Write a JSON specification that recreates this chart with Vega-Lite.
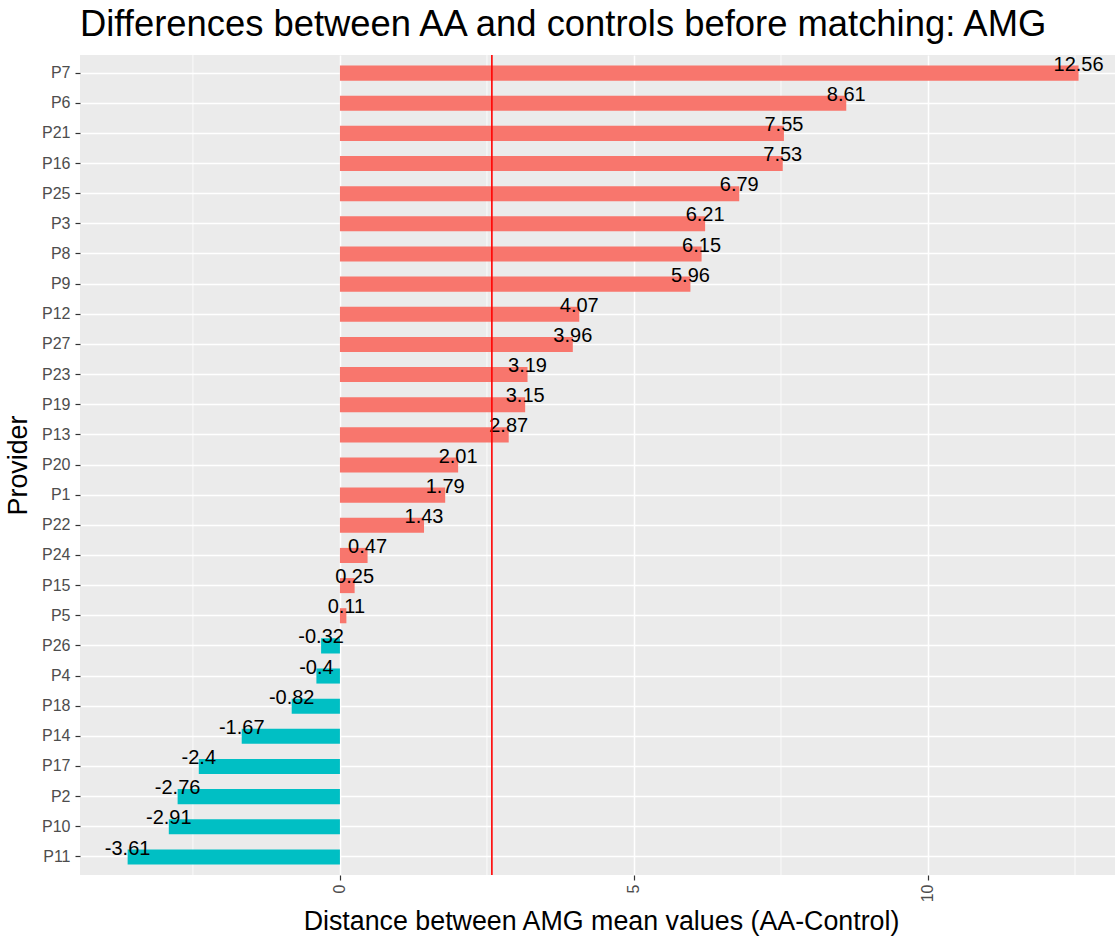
{
  "$schema": "https://vega.github.io/schema/vega-lite/v6.json",
  "width": 1035,
  "height": 820,
  "autosize": {"type": "none"},
  "padding": {"left": 80, "top": 55, "right": 0, "bottom": 63},
  "background": "white",
  "title": {
    "text": "Differences between AA and controls before matching: AMG",
    "anchor": "start",
    "frame": "group",
    "font": "Liberation Sans",
    "fontSize": 36.4,
    "fontWeight": "normal",
    "color": "black",
    "baseline": "alphabetic",
    "offset": 17,
    "dy": 35
  },
  "config": {
    "view": {"fill": "#EBEBEB", "stroke": null},
    "font": "Liberation Sans"
  },
  "datasets": {
    "main": [
      {"Provider": "P7", "value": 12.56},
      {"Provider": "P6", "value": 8.61},
      {"Provider": "P21", "value": 7.55},
      {"Provider": "P16", "value": 7.53},
      {"Provider": "P25", "value": 6.79},
      {"Provider": "P3", "value": 6.21},
      {"Provider": "P8", "value": 6.15},
      {"Provider": "P9", "value": 5.96},
      {"Provider": "P12", "value": 4.07},
      {"Provider": "P27", "value": 3.96},
      {"Provider": "P23", "value": 3.19},
      {"Provider": "P19", "value": 3.15},
      {"Provider": "P13", "value": 2.87},
      {"Provider": "P20", "value": 2.01},
      {"Provider": "P1", "value": 1.79},
      {"Provider": "P22", "value": 1.43},
      {"Provider": "P24", "value": 0.47},
      {"Provider": "P15", "value": 0.25},
      {"Provider": "P5", "value": 0.11},
      {"Provider": "P26", "value": -0.32},
      {"Provider": "P4", "value": -0.4},
      {"Provider": "P18", "value": -0.82},
      {"Provider": "P14", "value": -1.67},
      {"Provider": "P17", "value": -2.4},
      {"Provider": "P2", "value": -2.76},
      {"Provider": "P10", "value": -2.91},
      {"Provider": "P11", "value": -3.61}
    ],
    "minor": [
      {"g": -2.5},
      {"g": 2.5},
      {"g": 7.5},
      {"g": 12.5}
    ],
    "mean": [
      {"mean": 2.584}
    ]
  },
  "layer": [
    {
      "data": {"name": "minor"},
      "mark": {"type": "rule", "color": "white", "strokeWidth": 0.8},
      "encoding": {
        "x": {
          "field": "g",
          "type": "quantitative",
          "scale": {"domain": [-4.42, 13.18], "nice": false, "zero": false},
          "axis": {
            "title": "Distance between AMG mean values (AA-Control)",
            "values": [0, 5, 10],
            "format": "d",
            "labelAngle": 270,
            "labelAlign": "right",
            "labelBaseline": "middle",
            "labelFont": "Liberation Sans",
            "labelFontSize": 16,
            "labelColor": "#4D4D4D",
            "tickColor": "#333333",
            "tickSize": 5,
            "tickWidth": 1.2,
            "labelPadding": 4,
            "domain": false,
            "grid": true,
            "gridColor": "white",
            "gridWidth": 1.5,
            "titleFont": "Liberation Sans",
            "titleFontSize": 26.8,
            "titleFontWeight": "normal",
            "titleColor": "black",
            "titleX": 521,
            "titleY": 54,
            "titleAlign": "center",
            "titleBaseline": "alphabetic"
          }
        }
      }
    },
    {
      "data": {"name": "main"},
      "mark": {"type": "bar"},
      "encoding": {
        "y": {
          "field": "Provider",
          "type": "nominal",
          "sort": null,
          "scale": {"paddingInner": 0.5, "paddingOuter": 0.35},
          "axis": {
            "title": "Provider",
            "titleFont": "Liberation Sans",
            "titleFontSize": 26.8,
            "titleFontWeight": "normal",
            "titleColor": "black",
            "titleAngle": 270,
            "titleX": -54,
            "titleY": 410,
            "titleAlign": "center",
            "titleBaseline": "alphabetic",
            "labelFont": "Liberation Sans",
            "labelFontSize": 16,
            "labelColor": "#4D4D4D",
            "tickColor": "#333333",
            "tickSize": 5,
            "tickWidth": 1.2,
            "labelPadding": 5,
            "domain": false,
            "grid": true,
            "gridColor": "white",
            "gridWidth": 1.5,
            "bandPosition": 0.5
          }
        },
        "x": {
          "field": "value",
          "type": "quantitative",
          "scale": {"domain": [-4.42, 13.18], "nice": false, "zero": false}
        },
        "x2": {"datum": 0},
        "color": {
          "condition": {"test": "datum.value > 0", "value": "#F8766D"},
          "value": "#00BFC4"
        }
      }
    },
    {
      "data": {"name": "main"},
      "mark": {
        "type": "text",
        "font": "Liberation Sans",
        "fontSize": 20,
        "color": "black",
        "align": "center",
        "baseline": "alphabetic",
        "dy": -2.4
      },
      "encoding": {
        "y": {
          "field": "Provider",
          "type": "nominal",
          "sort": null,
          "scale": {"paddingInner": 0.5, "paddingOuter": 0.35}
        },
        "x": {
          "field": "value",
          "type": "quantitative",
          "scale": {"domain": [-4.42, 13.18], "nice": false, "zero": false}
        },
        "text": {"field": "value", "type": "nominal"}
      }
    },
    {
      "data": {"name": "mean"},
      "mark": {"type": "rule", "color": "#FF0000", "strokeWidth": 1.6},
      "encoding": {
        "x": {
          "field": "mean",
          "type": "quantitative",
          "scale": {"domain": [-4.42, 13.18], "nice": false, "zero": false}
        }
      }
    }
  ]
}
